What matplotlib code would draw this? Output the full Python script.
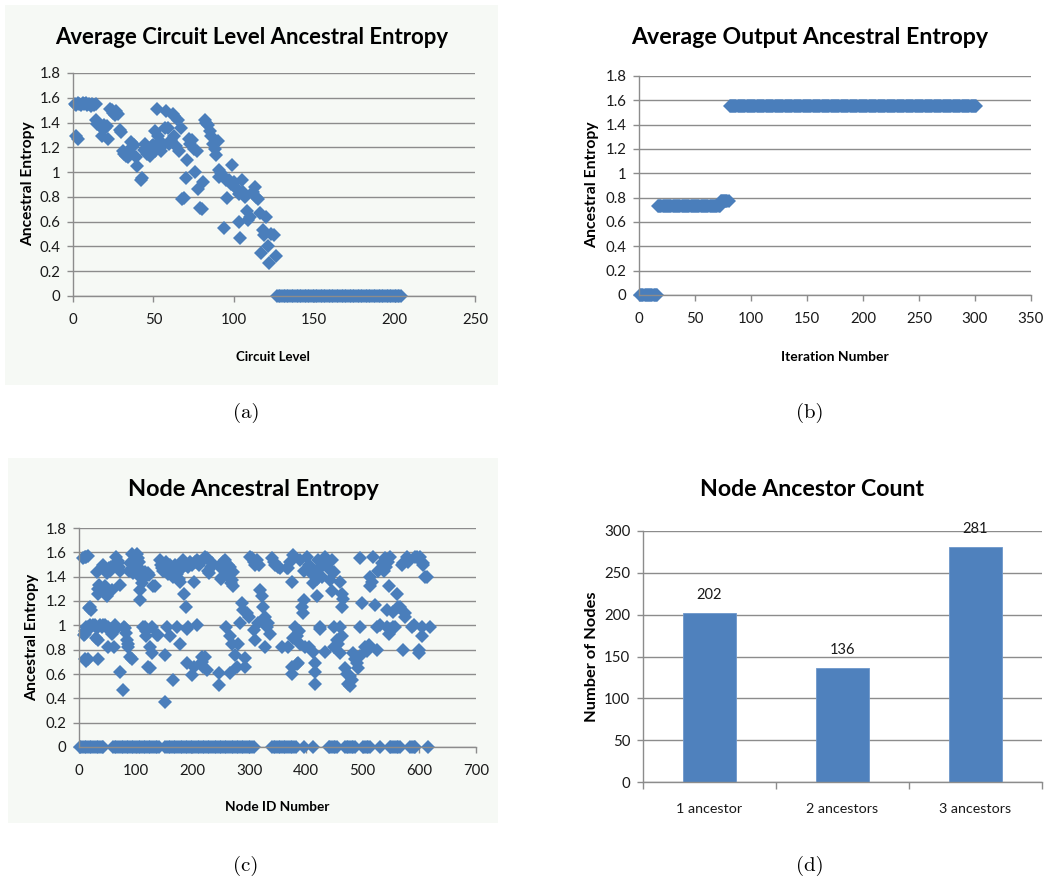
import numpy as np
import matplotlib.pyplot as plt
from matplotlib.patches import Rectangle
from matplotlib.ticker import FuncFormatter

W, H = 1052, 884
BLUE = '#4a7ebb'
BAR_BLUE = '#4f81bd'
GRID = '#8c8c8c'
PANEL_BG = '#f6f9f5'
MS = 7.4
plt.rcParams['font.family'] = ['Lato', 'DejaVu Sans']

# --- (a) Average circuit level ancestral entropy: (level, entropy) ---
a_points = [
    (1, 1.55), (2, 1.54), (3, 1.56), (4, 1.55), (5, 1.54), (6, 1.56), (7, 1.55),
    (8, 1.56), (9, 1.54), (10, 1.55), (11, 1.53), (12, 1.55), (13, 1.54), (14, 1.55),
    (2, 1.29), (3, 1.27),
    (14, 1.42), (15, 1.39), (16, 1.38), (17, 1.37), (19, 1.38), (20, 1.36), (21, 1.37),
    (18, 1.29), (22, 1.27),
    (23, 1.51), (24, 1.50), (25, 1.48), (26, 1.46), (27, 1.49), (28, 1.47),
    (29, 1.34), (30, 1.32),
    (31, 1.17), (32, 1.15), (33, 1.13), (34, 1.12), (35, 1.16),
    (36, 1.24), (37, 1.20), (38, 1.22), (39, 1.12), (40, 1.05), (42, 0.94), (43, 0.95),
    (44, 1.18), (45, 1.23), (46, 1.15), (47, 1.19), (48, 1.13), (49, 1.21), (50, 1.22),
    (51, 1.17), (51, 1.33), (52, 1.51), (53, 1.29), (54, 1.25), (55, 1.17), (56, 1.22),
    (57, 1.36), (58, 1.49), (59, 1.36), (60, 1.23), (61, 1.26),
    (62, 1.47), (63, 1.45), (63, 1.29), (64, 1.21), (65, 1.42), (66, 1.17), (67, 1.36),
    (68, 0.78), (69, 0.79), (70, 0.95), (71, 1.10), (72, 1.27), (73, 1.23), (74, 1.26),
    (75, 1.19), (76, 1.00), (77, 1.17), (78, 0.86), (79, 0.71), (80, 0.70), (81, 0.92),
    (82, 1.42), (83, 1.40), (84, 1.38), (85, 1.33), (86, 1.29), (87, 1.23), (88, 1.19),
    (89, 1.14), (90, 1.25), (91, 1.02), (91, 0.96), (92, 0.99), (93, 0.97), (94, 0.55),
    (95, 0.94), (96, 0.79), (97, 0.94), (98, 0.90), (99, 1.06), (100, 0.92), (101, 0.88),
    (102, 0.86), (103, 0.82), (103, 0.60), (104, 0.47), (105, 0.94), (106, 0.84),
    (107, 0.80), (108, 0.69), (109, 0.61), (110, 0.64), (112, 0.84), (113, 0.88),
    (114, 0.80), (115, 0.78), (116, 0.67), (117, 0.35), (118, 0.53), (119, 0.49),
    (120, 0.64), (121, 0.40), (122, 0.27), (123, 0.50), (125, 0.49), (126, 0.32),
]
a_zero_first, a_zero_last = 127, 204   # every level in this range sits at 0

# --- (b) Average output ancestral entropy: constant runs over iterations ---
b_start = [1, 17, 73, 81]
b_end = [16, 72, 80, 301]
b_level = [0.0, 0.73, 0.775, 1.55]

# --- (c) Node ancestral entropy: (node id, entropy), non-zero nodes ---
c_points = [
    (7, 1.55), (10, 1.56), (13, 1.56), (16, 1.57),
    (8, 0.92), (10, 0.95), (11, 0.93), (13, 0.99), (16, 0.99), (19, 1.0),
    (11, 0.72), (13, 0.71), (16, 0.72),
    (18, 1.14), (20, 1.15), (22, 1.13),
    (22, 0.99), (25, 1.0), (28, 1.0), (31, 0.98), (30, 0.90), (33, 0.88),
    (31, 1.44), (33, 1.30), (34, 1.26), (36, 1.33), (34, 0.72),
    (37, 1.0), (40, 0.99), (43, 1.0),
    (43, 1.50), (45, 1.46), (46, 1.32), (48, 1.27), (49, 1.43), (49, 1.24), (51, 1.29),
    (46, 1.0), (49, 0.98), (52, 0.99), (55, 0.97), (52, 0.82),
    (53, 1.47), (55, 1.45), (57, 1.48), (58, 1.29), (58, 0.93), (60, 0.95), (61, 0.99), (61, 0.82),
    (63, 1.0), (65, 0.97), (66, 1.56), (68, 1.53), (69, 1.51), (71, 1.48), (72, 1.45),
    (72, 1.33), (72, 0.62), (78, 0.47),
    (79, 0.99), (81, 0.98), (82, 0.94), (84, 0.88), (86, 0.85), (87, 0.82), (90, 0.74), (93, 0.72),
    (88, 1.45), (90, 1.51), (93, 1.59), (95, 1.47), (96, 1.43), (98, 1.50), (99, 1.48),
    (101, 1.45), (102, 1.59), (104, 1.55), (105, 1.52), (107, 1.46), (108, 1.40), (108, 1.29),
    (108, 1.21), (110, 1.42), (111, 1.35), (112, 1.38), (113, 1.43), (115, 1.40), (117, 1.44),
    (119, 1.42), (122, 1.43), (124, 1.41),
    (113, 0.99), (116, 0.99), (118, 0.95), (119, 0.91), (122, 0.66), (125, 0.65), (125, 0.82),
    (128, 0.77), (128, 0.99), (131, 1.32),
    (134, 1.32), (137, 0.92), (140, 0.92), (143, 1.54), (145, 1.50), (146, 1.47), (148, 1.45),
    (150, 1.48), (152, 0.76), (152, 0.37),
    (153, 1.52), (155, 1.46), (155, 0.99), (157, 1.42), (158, 1.48), (160, 0.91), (161, 1.50),
    (163, 1.45), (164, 1.44), (166, 0.55), (166, 1.40), (168, 1.47), (170, 1.50), (172, 0.99),
    (173, 1.42), (175, 1.48), (176, 1.38), (178, 0.85), (178, 1.36), (180, 1.50), (182, 1.47),
    (184, 1.54), (186, 1.26), (188, 1.15), (188, 1.50), (190, 0.69), (190, 0.97), (193, 0.99),
    (193, 1.48), (196, 1.52), (199, 1.50), (200, 0.59), (202, 0.66), (202, 1.36), (205, 1.52),
    (208, 1.0), (208, 1.54), (211, 1.50), (214, 1.52), (216, 0.74), (217, 0.70), (219, 1.54),
    (219, 0.66), (222, 1.56), (222, 0.74), (225, 0.63), (225, 1.55), (228, 1.45), (230, 1.43),
    (232, 1.48), (234, 1.51), (246, 0.61), (246, 0.51),
    (249, 1.48), (250, 1.38), (252, 1.40), (254, 1.52), (257, 1.54), (258, 1.45), (260, 1.44),
    (260, 0.99), (262, 1.50), (264, 1.41), (266, 1.48), (266, 0.91), (266, 0.61), (268, 1.35),
    (269, 1.37), (269, 0.85), (271, 1.44), (272, 1.32), (275, 0.76), (278, 0.66), (281, 0.85),
    (284, 1.02), (287, 1.18), (290, 1.13), (293, 0.73), (293, 0.66), (296, 1.10), (299, 1.07),
    (302, 1.56), (305, 1.55), (308, 1.52), (308, 0.96), (311, 0.88), (310, 1.50), (313, 1.54),
    (316, 1.02), (318, 1.50), (319, 1.29), (322, 1.24), (325, 1.15), (328, 1.07), (328, 0.82),
    (331, 0.99), (334, 1.02), (337, 0.93), (340, 1.55), (343, 1.52), (346, 1.50), (350, 1.48),
    (355, 1.47), (358, 0.82), (366, 1.47), (369, 0.82), (369, 1.47), (372, 1.52), (375, 1.36),
    (375, 0.66), (375, 0.60), (378, 1.58), (378, 0.90), (381, 0.99), (384, 0.91), (384, 0.68),
    (387, 0.69), (388, 0.95), (390, 0.85), (390, 1.54), (393, 1.15), (395, 1.10), (396, 1.21),
    (396, 1.45),
    (399, 0.82), (402, 1.56), (405, 0.82), (405, 1.50), (408, 1.48), (410, 1.42), (413, 1.45),
    (413, 1.35), (413, 0.78), (416, 0.52), (416, 0.69), (416, 0.62), (419, 1.24), (419, 1.38),
    (422, 1.54), (424, 1.47), (425, 0.99), (425, 0.97), (428, 1.40), (430, 1.50), (432, 1.53),
    (434, 0.78), (434, 1.56), (437, 1.52), (440, 1.46), (443, 1.37), (446, 1.28), (446, 1.54),
    (449, 0.99), (449, 1.44), (449, 0.82), (455, 0.88),
    (457, 0.85), (460, 1.36), (460, 0.99), (460, 0.77), (463, 1.26), (463, 1.15), (463, 0.91),
    (466, 1.22), (469, 0.65), (472, 0.60), (475, 0.52), (477, 0.50), (478, 0.58), (481, 0.55),
    (484, 0.77), (487, 0.72), (490, 0.69), (492, 0.65), (496, 1.55), (496, 0.99), (496, 0.75),
    (499, 1.18),
    (504, 0.82), (507, 0.79), (511, 0.84), (513, 1.32), (513, 1.40), (516, 1.36), (519, 1.56),
    (522, 1.17), (525, 0.99), (525, 0.80), (528, 1.45), (531, 1.0), (534, 1.51), (537, 1.45),
    (540, 1.55), (542, 1.48), (543, 1.13), (543, 0.99), (544, 1.52), (546, 1.32), (546, 0.93),
    (549, 1.56), (549, 0.97), (554, 0.99), (554, 1.11), (557, 0.99), (560, 1.26), (563, 1.15),
    (566, 1.15), (569, 1.50), (572, 0.80), (572, 1.51), (575, 1.10), (575, 1.07), (578, 1.56),
    (580, 1.52), (587, 0.99), (590, 1.0), (593, 1.56), (596, 1.56), (599, 0.77), (600, 0.80),
    (601, 1.56), (604, 0.91), (604, 0.99), (607, 1.51), (607, 1.50), (610, 1.40), (613, 1.40),
    (619, 0.99),
]
# runs of node ids whose entropy is 0 (single-ancestor nodes)
c_zero_start = [1, 60, 152, 340, 396, 413, 440, 469, 501, 531, 548, 584, 615]
c_zero_end = [43, 143, 308, 384, 396, 413, 457, 487, 514, 531, 566, 593, 615]

# --- (d) Node ancestor count ---
d_labels = ['1 ancestor', '2 ancestors', '3 ancestors']
d_counts = [202, 136, 281]


fig = plt.figure(figsize=(W / 100, H / 100), dpi=100, facecolor='white')


def add_axes_px(left, top, right, bottom):
    return fig.add_axes([left / W, 1 - bottom / H, (right - left) / W, (bottom - top) / H])


def ftext(x, y, s, **kw):
    return fig.text(x / W, 1 - y / H, s, ha='center', va='center', **kw)


def fit(t, target):
    # scale a text so its longest side covers `target` pixels
    r = fig.canvas.get_renderer()
    bb = t.get_window_extent(r)
    t.set_fontsize(t.get_fontsize() * target / max(bb.width, bb.height))


def excel_style(ax):
    ax.set_facecolor('none')
    for side in ('top', 'right'):
        ax.spines[side].set_visible(False)
    for side in ('left', 'bottom'):
        ax.spines[side].set_color(GRID)
        ax.spines[side].set_linewidth(1.0)
    ax.grid(axis='y', color=GRID, lw=1.0)
    ax.set_axisbelow(True)
    ax.tick_params(colors=GRID, labelcolor='#1a1a1a', labelsize=10.8, length=4, width=1)
    ax.tick_params(axis='x', pad=8)
    ax.tick_params(axis='y', pad=5)


entropy_fmt = FuncFormatter(lambda v, _: f'{v:g}')

# panel backgrounds of the two spreadsheet charts on the left
for (x0, y0, x1, y1) in [(5, 5, 498, 385), (8, 458, 498, 823)]:
    fig.add_artist(Rectangle((x0 / W, 1 - y1 / H), (x1 - x0) / W, (y1 - y0) / H,
                             transform=fig.transFigure, facecolor=PANEL_BG,
                             edgecolor='none', zorder=0))

# ---------------- (a) ----------------
ax = add_axes_px(73, 73, 475, 296)
excel_style(ax)
ax_x = [p[0] for p in a_points] + list(range(a_zero_first, a_zero_last + 1))
ax_y = [p[1] for p in a_points] + [0.0] * (a_zero_last - a_zero_first + 1)
ax.plot(ax_x, ax_y, 'D', color=BLUE, ms=MS, mew=0, clip_on=False)
ax.set_xlim(0, 250)
ax.set_ylim(0, 1.8)
ax.set_xticks(np.arange(0, 251, 50))
ax.set_yticks(np.arange(0, 1.81, 0.2))
ax.yaxis.set_major_formatter(entropy_fmt)

# ---------------- (b) ----------------
ax = add_axes_px(639, 76, 1031, 295)
excel_style(ax)
for s, e, lev in zip(b_start, b_end, b_level):
    it = np.arange(s, e + 1)
    ax.plot(it, np.full(len(it), lev), 'D', color=BLUE, ms=MS, mew=0, clip_on=False)
ax.set_xlim(0, 350)
ax.set_ylim(0, 1.8)
ax.set_xticks(np.arange(0, 351, 50))
ax.set_yticks(np.arange(0, 1.81, 0.2))
ax.yaxis.set_major_formatter(entropy_fmt)

# ---------------- (c) ----------------
ax = add_axes_px(79, 528, 476, 747)
excel_style(ax)
zx = []
for s, e in zip(c_zero_start, c_zero_end):
    zx += list(range(s, e + 1, 3))
cx = [p[0] for p in c_points] + zx
cy = [p[1] for p in c_points] + [0.0] * len(zx)
ax.plot(cx, cy, 'D', color=BLUE, ms=MS, mew=0, clip_on=False)
ax.set_xlim(0, 700)
ax.set_ylim(0, 1.8)
ax.set_xticks(np.arange(0, 701, 100))
ax.set_yticks(np.arange(0, 1.81, 0.2))
ax.yaxis.set_major_formatter(entropy_fmt)

# ---------------- (d) ----------------
ax = add_axes_px(643, 531, 1042, 782)
excel_style(ax)
pos = np.arange(len(d_counts))
ax.bar(pos, d_counts, width=0.4, color=BAR_BLUE, edgecolor='#6d97cb', lw=0.6)
for x, v in zip(pos, d_counts):
    ax.annotate(str(v), (x, v), xytext=(0, 8), textcoords='offset points',
                ha='center', va='bottom', fontsize=10.5, color='#1a1a1a')
ax.set_xlim(-0.5, 2.5)
ax.set_ylim(0, 300)
ax.set_yticks(np.arange(0, 301, 50))
ax.set_xticks(pos)
ax.set_xticklabels(d_labels, fontsize=10.3)
ax.set_xticks(np.arange(-0.5, 2.6, 1), minor=True)
ax.tick_params(axis='x', which='major', length=0, pad=15)
ax.tick_params(axis='x', which='minor', length=5, color=GRID, width=1)

# ---------------- titles, axis labels, captions ----------------
for (x, y, s, w) in [(252, 37, 'Average Circuit Level Ancestral Entropy', 395),
                     (810, 37, 'Average Output Ancestral Entropy', 358),
                     (253, 490, 'Node Ancestral Entropy', 252),
                     (812, 490, 'Node Ancestor Count', 225)]:
    fit(ftext(x, y, s, fontsize=16, fontweight='bold', color='black'), w)

for (x, y, s, w) in [(28, 184, 'Ancestral Entropy', 125),
                     (592, 185, 'Ancestral Entropy', 127),
                     (32, 637, 'Ancestral Entropy', 128),
                     (592, 657, 'Number of Nodes', 130)]:
    fit(ftext(x, y, s, fontsize=9, fontweight='bold', rotation=90, color='black'), w)

for (x, y, s, w) in [(273, 357, 'Circuit Level', 74),
                     (835, 357, 'Iteration Number', 108),
                     (277, 807, 'Node ID Number', 104)]:
    fit(ftext(x, y, s, fontsize=9, fontweight='bold', color='black'), w)

for (x, y, s) in [(246, 413, '(a)'), (810, 413, '(b)'), (246, 866, '(c)'), (810, 866, '(d)')]:
    ftext(x, y, s, fontsize=15, family=['cmr10', 'DejaVu Serif'], color='black')

fig.savefig('out.png', dpi=100, facecolor='white')
